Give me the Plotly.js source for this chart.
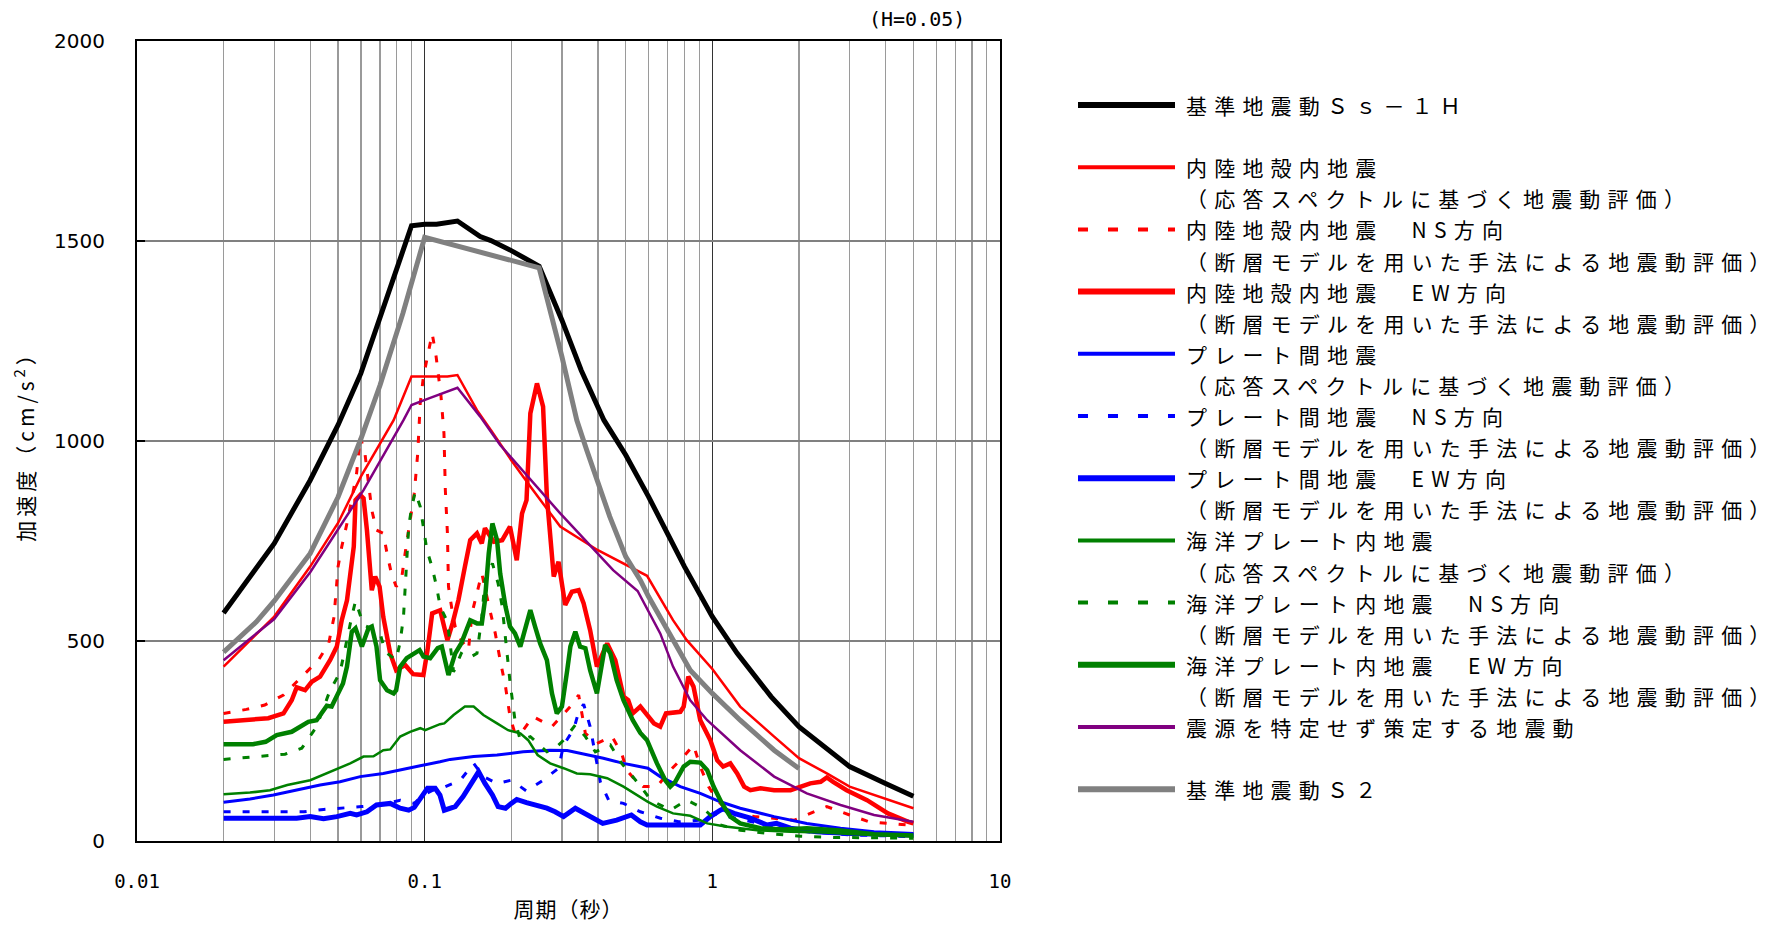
<!DOCTYPE html>
<html>
<head>
<meta charset="utf-8">
<script src="https://cdn.plot.ly/plotly-3.0.1.min.js"></script>
<style>
  html, body { margin: 0; padding: 0; background: #fff; }
  #chart { width: 1780px; height: 926px; }
  .annotation:not([data-index="0"]) .annotation-text { letter-spacing: 7.2px; }
  .g-xtitle text { letter-spacing: 1px; }
  .g-ytitle text { letter-spacing: 4px; }
</style>
</head>
<body>
<div id="chart"></div>
<script>
// ---- data: [period (s), acceleration (cm/s^2)] ----
const ssH = [[0.02,570],[0.03,744],[0.04,902],[0.05,1040],[0.06,1169],[0.07,1311],[0.08,1427],[0.09,1538],[0.1,1542],[0.11,1542],[0.13,1550],[0.156,1511],[0.17,1501],[0.2,1476],[0.25,1437],[0.3,1302],[0.35,1177],[0.42,1052],[0.5,965],[0.6,861],[0.8,686],[1.0,561],[1.22,469],[1.6,361],[2.0,286],[3.0,186],[4.0,144],[5.0,112]];

const inlandResp = [[0.02,436],[0.03,561],[0.04,686],[0.05,795],[0.06,911],[0.078,1052],[0.09,1161],[0.12,1161],[0.13,1165],[0.152,1077],[0.17,1027],[0.2,952],[0.233,886],[0.296,786],[0.4,727],[0.593,663],[0.73,552],[0.815,502],[1.0,430],[1.25,336],[1.64,261],[2.0,207],[2.5,169],[3.0,136],[5.0,82]];

const inlandNS = [[0.02,319],[0.024,329],[0.0278,340],[0.0323,365],[0.0427,452],[0.0464,494],[0.0484,560],[0.05,686],[0.0515,736],[0.054,802],[0.058,919],[0.0597,1011],[0.062,969],[0.0655,827],[0.068,777],[0.0718,769],[0.074,719],[0.0766,669],[0.0796,636],[0.083,652],[0.0855,719],[0.089,802],[0.092,869],[0.0946,969],[0.0965,1094],[0.099,1161],[0.104,1236],[0.1062,1269],[0.1096,1211],[0.114,1111],[0.1167,1019],[0.118,877],[0.12,769],[0.121,636],[0.125,569],[0.1277,536],[0.134,502],[0.142,477],[0.146,569],[0.152,619],[0.158,669],[0.167,590],[0.176,519],[0.183,452],[0.191,386],[0.198,311],[0.206,269],[0.22,277],[0.238,311],[0.277,286],[0.321,336],[0.343,365],[0.352,319],[0.362,269],[0.397,244],[0.448,261],[0.484,219],[0.504,177],[0.54,152],[0.575,136],[0.642,136],[0.714,177],[0.795,211],[0.86,240],[0.908,186],[0.97,136],[1.04,102],[1.155,69],[1.4,61],[1.64,57],[1.93,52],[2.19,69],[2.5,86],[3.0,65],[3.51,48],[4.1,44],[4.8,40],[5.0,32]];

const inlandEW = [[0.02,298],[0.024,304],[0.0286,307],[0.0323,319],[0.0345,352],[0.0359,384],[0.0384,377],[0.0405,398],[0.0433,411],[0.0469,452],[0.0495,486],[0.0515,552],[0.0537,602],[0.0567,736],[0.0575,852],[0.0597,865],[0.0613,857],[0.063,777],[0.0655,627],[0.0673,661],[0.0697,636],[0.0718,560],[0.0759,469],[0.0796,427],[0.0855,440],[0.0912,417],[0.099,415],[0.1023,477],[0.1062,569],[0.1132,577],[0.12,502],[0.125,544],[0.131,602],[0.138,686],[0.144,752],[0.152,769],[0.158,744],[0.162,782],[0.174,748],[0.186,752],[0.198,786],[0.209,702],[0.218,819],[0.226,852],[0.233,1069],[0.2457,1144],[0.258,1086],[0.266,861],[0.273,752],[0.281,661],[0.292,698],[0.308,590],[0.325,623],[0.343,627],[0.357,594],[0.376,527],[0.397,436],[0.431,494],[0.46,452],[0.491,361],[0.51,352],[0.529,319],[0.562,336],[0.627,294],[0.659,286],[0.69,319],[0.774,323],[0.795,336],[0.825,411],[0.86,386],[0.908,302],[0.984,252],[1.04,202],[1.09,186],[1.155,194],[1.22,169],[1.29,136],[1.356,127],[1.47,132],[1.64,127],[1.87,127],[2.02,136],[2.19,144],[2.38,148],[2.5,159],[2.63,148],[2.93,127],[3.45,102],[4.08,69],[4.8,48],[5.0,44]];

const plateResp = [[0.02,97],[0.0247,105],[0.0298,115],[0.0359,127],[0.0433,140],[0.0508,148],[0.0597,161],[0.0718,169],[0.0822,177],[0.0965,188],[0.113,198],[0.1227,204],[0.148,211],[0.1785,215],[0.22,223],[0.273,227],[0.313,226],[0.357,217],[0.418,207],[0.491,194],[0.597,182],[0.659,161],[0.774,136],[0.908,119],[1.066,98],[1.25,82],[1.64,61],[2.13,44],[2.79,32],[3.65,23],[5.0,19]];

const plateNS = [[0.02,73],[0.038,73],[0.0445,79],[0.052,82],[0.0605,86],[0.07,90],[0.0822,102],[0.092,94],[0.099,115],[0.106,126],[0.118,136],[0.133,152],[0.148,194],[0.16,161],[0.1785,144],[0.2,152],[0.226,125],[0.258,152],[0.292,182],[0.304,240],[0.33,280],[0.343,323],[0.357,342],[0.376,286],[0.392,210],[0.408,148],[0.436,102],[0.491,94],[0.562,73],[0.66,57],[0.764,48],[0.896,52],[1.01,69],[1.14,61],[1.356,48],[1.64,36],[2.13,23],[3.1,15],[5.0,11]];

const plateEW = [[0.02,57],[0.0359,57],[0.04,61],[0.0445,56],[0.0495,61],[0.0551,69],[0.058,65],[0.063,73],[0.068,90],[0.0759,94],[0.0822,82],[0.088,77],[0.092,84],[0.0965,107],[0.1023,132],[0.1088,132],[0.113,115],[0.117,77],[0.1277,86],[0.136,111],[0.148,152],[0.154,173],[0.162,144],[0.172,115],[0.18,86],[0.191,82],[0.2,94],[0.209,104],[0.226,96],[0.245,90],[0.266,82],[0.284,73],[0.304,61],[0.334,82],[0.362,69],[0.416,44],[0.465,52],[0.523,65],[0.562,48],[0.593,40],[0.908,40],[0.984,61],[1.066,77],[1.09,80],[1.19,69],[1.356,57],[1.55,40],[1.67,44],[1.87,32],[2.3,23],[3.0,19],[5.0,15]];

const slabResp = [[0.02,117],[0.0247,121],[0.029,127],[0.0333,140],[0.04,152],[0.0469,173],[0.0551,194],[0.0613,211],[0.0664,212],[0.0718,227],[0.0759,229],[0.0822,261],[0.089,273],[0.0965,282],[0.1004,277],[0.113,292],[0.117,294],[0.126,315],[0.138,336],[0.148,336],[0.16,315],[0.1785,294],[0.195,277],[0.215,269],[0.229,252],[0.247,215],[0.273,194],[0.304,182],[0.338,169],[0.376,167],[0.431,157],[0.491,136],[0.545,115],[0.597,98],[0.642,86],[0.73,69],[0.838,63],[0.96,44],[1.11,36],[1.43,27],[1.87,23],[2.44,21],[3.1,17],[5.0,12]];

const slabNS = [[0.02,204],[0.0237,209],[0.0278,213],[0.0327,217],[0.0374,232],[0.0421,286],[0.0469,377],[0.0508,421],[0.0558,561],[0.0575,600],[0.0613,540],[0.066,530],[0.07,519],[0.0729,473],[0.0796,452],[0.0822,498],[0.0844,560],[0.0866,686],[0.088,786],[0.09,832],[0.0927,873],[0.0965,836],[0.099,786],[0.1018,727],[0.106,686],[0.11,636],[0.1132,586],[0.12,548],[0.126,423],[0.134,469],[0.142,457],[0.152,469],[0.158,560],[0.162,652],[0.172,694],[0.18,644],[0.186,586],[0.195,444],[0.198,398],[0.206,302],[0.215,252],[0.233,261],[0.266,223],[0.288,236],[0.304,252],[0.334,290],[0.362,261],[0.392,223],[0.442,240],[0.484,194],[0.553,144],[0.612,102],[0.714,77],[0.815,102],[0.93,82],[1.066,40],[1.25,27],[1.55,19],[2.02,12],[2.63,9],[5.0,7]];

const slabEW = [[0.02,242],[0.0253,242],[0.028,248],[0.0306,265],[0.0345,273],[0.0369,286],[0.0394,298],[0.0421,302],[0.0439,323],[0.0457,338],[0.0475,336],[0.0495,361],[0.052,394],[0.0537,436],[0.0558,523],[0.0575,532],[0.0605,486],[0.0638,532],[0.0655,536],[0.068,486],[0.07,402],[0.074,377],[0.078,369],[0.0796,377],[0.0822,436],[0.0866,457],[0.092,469],[0.096,477],[0.099,461],[0.1045,457],[0.111,482],[0.1147,486],[0.121,415],[0.1277,469],[0.134,494],[0.144,552],[0.152,544],[0.158,544],[0.162,602],[0.167,719],[0.172,794],[0.1785,752],[0.183,669],[0.191,586],[0.198,536],[0.206,519],[0.215,486],[0.224,536],[0.233,577],[0.242,536],[0.252,494],[0.266,452],[0.277,369],[0.288,319],[0.3,336],[0.313,427],[0.321,486],[0.334,523],[0.347,486],[0.362,482],[0.376,427],[0.397,369],[0.416,452],[0.424,490],[0.442,469],[0.465,402],[0.491,352],[0.529,302],[0.562,270],[0.593,252],[0.642,194],[0.686,152],[0.714,136],[0.743,148],[0.795,186],[0.838,198],[0.908,196],[0.96,177],[1.01,136],[1.08,94],[1.155,61],[1.25,44],[1.47,32],[1.77,29],[2.13,32],[2.79,26],[3.65,17],[5.0,14]];

const unspecified = [[0.02,452],[0.03,555],[0.04,672],[0.05,780],[0.0613,877],[0.0844,1052],[0.09,1090],[0.104,1107],[0.13,1133],[0.156,1061],[0.183,990],[0.296,819],[0.397,719],[0.452,677],[0.55,625],[0.659,519],[0.73,436],[0.838,352],[0.96,302],[1.25,227],[1.64,161],[2.13,119],[2.79,90],[3.65,65],[5.0,48]];

const ss2 = [[0.02,472],[0.026,548],[0.03,600],[0.04,719],[0.05,860],[0.06,1005],[0.07,1140],[0.084,1319],[0.1,1509],[0.16,1469],[0.25,1433],[0.3,1211],[0.338,1052],[0.366,977],[0.44,811],[0.5,711],[0.562,652],[0.6,611],[0.838,427],[1.0,369],[1.25,302],[1.64,227],[2.0,181]];

// ---- labels ----
const seriesNames = [
  ['基準地震動Ｓｓ－１Ｈ'],
  ['内陸地殻内地震', '（応答スペクトルに基づく地震動評価）'],
  ['内陸地殻内地震　NS方向', '（断層モデルを用いた手法による地震動評価）'],
  ['内陸地殻内地震　EW方向', '（断層モデルを用いた手法による地震動評価）'],
  ['プレート間地震', '（応答スペクトルに基づく地震動評価）'],
  ['プレート間地震　NS方向', '（断層モデルを用いた手法による地震動評価）'],
  ['プレート間地震　EW方向', '（断層モデルを用いた手法による地震動評価）'],
  ['海洋プレート内地震', '（応答スペクトルに基づく地震動評価）'],
  ['海洋プレート内地震　NS方向', '（断層モデルを用いた手法による地震動評価）'],
  ['海洋プレート内地震　EW方向', '（断層モデルを用いた手法による地震動評価）'],
  ['震源を特定せず策定する地震動'],
  ['基準地震動Ｓ２']
];
const xTickVals = [0.01, 0.1, 1, 10];
const xTickText = ['0.01', '0.1', '1', '10'];
const xMinorVals = [0.02,0.03,0.04,0.05,0.06,0.07,0.08,0.09,0.2,0.3,0.4,0.5,0.6,0.7,0.8,0.9,2,3,4,5,6,7,8,9];
const yTickVals = [0, 500, 1000, 1500, 2000];

// ---- styles ----
const DASH = '7px,12px';
const seriesData = [ssH, inlandResp, inlandNS, inlandEW, plateResp, plateNS, plateEW, slabResp, slabNS, slabEW, unspecified, ss2];
const seriesStyle = [
  {color:'#000000', width:5,   dash:'solid', kw:6},
  {color:'#ff0000', width:2.5, dash:'solid', kw:4},
  {color:'#ff0000', width:3,   dash:DASH,    kw:4},
  {color:'#ff0000', width:4.5, dash:'solid', kw:6},
  {color:'#0000ff', width:3,   dash:'solid', kw:4},
  {color:'#0000ff', width:3,   dash:DASH,    kw:4},
  {color:'#0000ff', width:5,   dash:'solid', kw:6},
  {color:'#008000', width:2.5, dash:'solid', kw:4},
  {color:'#008000', width:3,   dash:DASH,    kw:4},
  {color:'#008000', width:4.5, dash:'solid', kw:6},
  {color:'#800080', width:2.5, dash:'solid', kw:4},
  {color:'#808080', width:5,   dash:'solid', kw:6}
];

const traces = seriesData.map((pts, i) => ({
  type: 'scatter',
  mode: 'lines',
  name: seriesNames[i].join(' '),
  x: pts.map(p => p[0]),
  y: pts.map(p => p[1]),
  line: {color: seriesStyle[i].color, width: seriesStyle[i].width, dash: seriesStyle[i].dash},
  hoverinfo: 'skip',
  showlegend: false
}));

const CJK = '"Noto Sans CJK JP", "Noto Sans CJK SC", sans-serif';

// ---- plot-area geometry (px) used to place the key outside the plot ----
const PLOT_L = 137, PLOT_R = 1000, PLOT_T = 41, PLOT_B = 841;
const px2x = px => (px - PLOT_L) / (PLOT_R - PLOT_L);
const px2y = py => (PLOT_B - py) / (PLOT_B - PLOT_T);
const KEY_X0 = 1078, KEY_X1 = 1175, KEY_TEXT_X = 1184;
const KEY_TOP = 105, KEY_PITCH = 31.1;
const KEY_GAP_BEFORE = [1, 11];   // blank line before these entries

const annotations = [{
  text: '(H=0.05)',
  xref: 'paper', yref: 'paper',
  x: 0.904, y: 1.0275,
  xanchor: 'center', yanchor: 'middle',
  showarrow: false,
  font: {family: '"DejaVu Sans Mono", monospace', size: 20, color: '#000'}
}];
const shapes = [];
let row = 0;
seriesNames.forEach((lines, i) => {
  if (KEY_GAP_BEFORE.includes(i)) row += 1;
  const st = seriesStyle[i];
  const yFirst = KEY_TOP + row * KEY_PITCH;
  shapes.push({
    type: 'line', xref: 'paper', yref: 'paper',
    x0: px2x(KEY_X0), x1: px2x(KEY_X1), y0: px2y(yFirst), y1: px2y(yFirst),
    line: {color: st.color, width: st.kw, dash: st.dash === 'solid' ? 'solid' : '10px,20px'}
  });
  lines.forEach(t => {
    annotations.push({
      text: t,
      xref: 'paper', yref: 'paper',
      x: px2x(KEY_TEXT_X), y: px2y(KEY_TOP + row * KEY_PITCH),
      xanchor: 'left', yanchor: 'middle', align: 'left',
      showarrow: false,
      font: {family: CJK, size: 21, color: '#000'}
    });
    row += 1;
  });
});

const layout = {
  width: 1780,
  height: 926,
  margin: {l: PLOT_L, r: 1780 - PLOT_R, t: PLOT_T, b: 926 - PLOT_B, pad: 0},
  paper_bgcolor: '#ffffff',
  plot_bgcolor: '#ffffff',
  font: {family: CJK, color: '#000000'},
  showlegend: false,
  xaxis: {
    type: 'log',
    range: [-2, 1],
    tickvals: xTickVals,
    ticktext: xTickText,
    ticks: '',
    showline: true,
    mirror: true,
    linecolor: '#000000',
    linewidth: 2,
    showgrid: true,
    gridcolor: '#333333',
    gridwidth: 1.3,
    zeroline: false,
    tickfont: {family: '"DejaVu Sans Mono", monospace', size: 19, color: '#000'},
    ticklabelstandoff: 22,
    minor: {tickvals: xMinorVals, showgrid: true, gridcolor: '#9a9a9a', gridwidth: 1.3, ticks: ''},
    title: {text: '周期（秒）', font: {family: CJK, size: 21, color: '#000'}, standoff: 12}
  },
  yaxis: {
    range: [0, 2000],
    tickvals: yTickVals,
    ticks: 'inside',
    ticklen: 8,
    tickwidth: 2,
    tickcolor: '#000000',
    showline: true,
    mirror: true,
    linecolor: '#000000',
    linewidth: 2,
    showgrid: true,
    gridcolor: '#808080',
    gridwidth: 2,
    zeroline: false,
    tickfont: {family: '"DejaVu Sans", sans-serif', size: 20, color: '#000'},
    ticklabelstandoff: 26,
    title: {text: '加速度（cm/s<sup>2</sup>）', font: {family: CJK, size: 21, color: '#000'}, standoff: 14}
  },
  shapes: shapes,
  annotations: annotations
};

Plotly.newPlot('chart', traces, layout, {displayModeBar: false, staticPlot: true});
</script>
</body>
</html>
